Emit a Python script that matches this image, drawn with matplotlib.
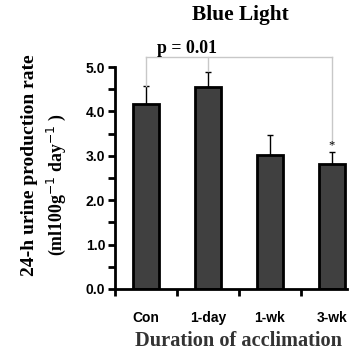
import numpy as np
import matplotlib
matplotlib.use('agg')
import matplotlib.pyplot as plt

# data
groups = ['Con', '1-day', '1-wk', '3-wk']
rate = [4.17, 4.56, 3.02, 2.81]
err = [0.40, 0.32, 0.45, 0.27]
bracket_y = 5.22
bracket_ends = [4.58, 4.92, 3.28]   # lower ends of the bracket legs (Con, 1-day, 3-wk)

serif = 'Liberation Serif'
sans = 'Liberation Sans'

fig = plt.figure(figsize=(3.56, 3.57), dpi=100)
ax = fig.add_axes([0.323, 0.1905, 0.652, 0.6218])

x = np.arange(len(groups))
ax.bar(x, rate, width=0.42, color='#404040', edgecolor='black', linewidth=2, zorder=2)
ax.errorbar(x, rate, yerr=[np.zeros(len(err)), err], fmt='none', ecolor='black',
            elinewidth=1, capsize=2.5, capthick=1, zorder=1)

# significance bracket
lc = '#c8c8c8'
ax.plot([0, 3], [bracket_y, bracket_y], color=lc, lw=1, clip_on=False)
for xi, yb in zip([0, 1, 3], bracket_ends):
    ax.plot([xi, xi], [yb, bracket_y], color=lc, lw=1, clip_on=False)
ax.text(0.66, 5.31, 'p = 0.01', ha='center', va='baseline',
        fontsize=12.8, fontweight='bold', family=serif)
ax.text(3, rate[3] + err[3] + 0.02, '*', ha='center', va='bottom', fontsize=9, family=serif)

ax.set_xlim(-0.5, 3.25)
ax.set_ylim(0, 5.0)
ax.set_yticks([0, 1, 2, 3, 4, 5])
ax.set_yticklabels(['0.0', '1.0', '2.0', '3.0', '4.0', '5.0'])
ax.set_yticks(np.arange(0.5, 5, 1.0), minor=True)
ax.set_xticks(x)
ax.set_xticklabels(groups)
ax.set_xticks([-0.5, 0.5, 1.5, 2.5], minor=True)
ax.tick_params(axis='x', which='major', length=0, pad=16)
ax.tick_params(axis='x', which='minor', length=5, width=2)
ax.tick_params(axis='y', which='both', length=5, width=2, pad=2)
for lab in ax.get_xticklabels() + ax.get_yticklabels():
    lab.set_family(sans)
    lab.set_fontweight('bold')
    lab.set_fontsize(10)

for s in ['top', 'right']:
    ax.spines[s].set_visible(False)
for s in ['left', 'bottom']:
    ax.spines[s].set_linewidth(2)

fig.text(0.671, 0.045, 'Duration of acclimation', ha='center', va='center',
         fontsize=14.7, fontweight='bold', family=serif, color='#333333')
fig.text(0.084, 0.538, '24-h urine production rate', rotation=90, ha='center', va='center',
         fontsize=14, fontweight='bold', family=serif)
fig.text(0.157, 0.482, '(ml100g$^{-1}$ day$^{-1}$ )', rotation=90, ha='center', va='center',
         fontsize=12.8, fontweight='bold', family=serif)
fig.text(0.674, 0.958, 'Blue Light', ha='center', va='center', fontsize=15.4,
         fontweight='bold', family=serif)

fig.savefig('out.png', dpi=100)
